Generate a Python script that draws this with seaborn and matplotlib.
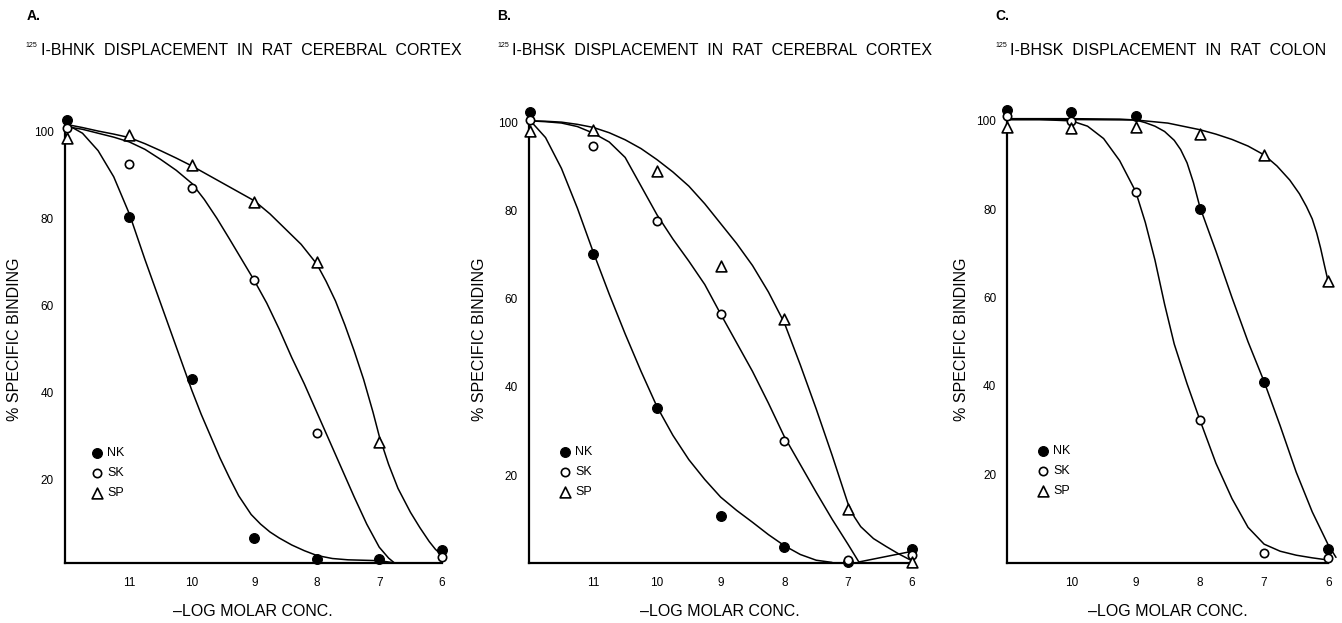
import numpy as np
import matplotlib
matplotlib.use("Agg")
import matplotlib.pyplot as plt
import seaborn as sns

# -log molar concentration of the displacing peptide
CONC_AB = [12, 11, 10, 9, 8, 7, 6]
CONC_C = [11, 10, 9, 8, 7, 6]

# % specific binding, panel A (125I-BHNK, cerebral cortex)
A_NK = [102.5, 80.2, 43.2, 6.7, 1.9, 1.9, 3.8]
A_SK = [100.8, 92.5, 86.9, 65.8, 30.8, np.nan, 2.3]
A_SP = [98.5, 99.0, 92.2, 83.7, 70.0, 28.6, np.nan]

# panel B (125I-BHSK, cerebral cortex)
B_NK = [102.4, 70.0, 35.2, 10.7, 3.8, 0.2, 3.2]
B_SK = [100.4, 94.5, 77.7, 56.5, 27.7, 0.8, 1.9]
B_SP = [97.9, 98.3, 88.9, 67.5, 55.3, 12.4, 0.4]

# panel C (125I-BHSK, colon)
C_NK = [102.5, 102.1, 101.2, 80.1, 40.8, 3.0]
C_SK = [101.0, 100.0, 83.8, 32.3, 2.1, 1.0]
C_SP = [98.7, 98.3, 98.7, 97.1, 92.2, 63.8]

# hand drawn fitted curves (x = -log M, y = %)
A_NK_FIT_X = [12.0, 11.75, 11.5, 11.25, 11.0, 10.75, 10.5, 10.25, 10.0, 9.85, 9.7, 9.55, 9.4, 9.25, 9.05,
              8.9, 8.75, 8.6, 8.4, 8.2, 8.0, 7.75, 7.5, 7.0, 6.75]
A_NK_FIT_Y = [101.5, 99.5, 95.5, 89.5, 81.0, 70.5, 60.5, 50.5, 40.5, 35.0, 30.0, 25.0, 20.5, 16.3, 12.0,
              9.8, 8.0, 6.6, 5.0, 3.7, 2.6, 1.9, 1.6, 1.4, 0.9]
A_SK_FIT_X = [12.0, 11.75, 11.5, 11.25, 11.0, 10.75, 10.5, 10.25, 10.0, 9.8, 9.6, 9.4, 9.2, 9.0, 8.8,
              8.6, 8.4, 8.2, 8.0, 7.8, 7.6, 7.4, 7.2, 7.0, 6.85, 6.75]
A_SK_FIT_Y = [101.0, 100.4, 99.5, 98.6, 97.5, 95.8, 93.5, 91.0, 88.0, 84.3, 80.0, 75.3, 70.5, 65.7, 60.5,
              54.5, 48.0, 42.0, 35.5, 29.0, 22.5, 16.0, 9.8, 4.5, 2.0, 0.8]
A_SP_FIT_X = [12.0, 11.75, 11.5, 11.25, 11.0, 10.75, 10.5, 10.25, 10.0, 9.75, 9.5, 9.25, 9.0, 8.75, 8.5,
              8.25, 8.0, 7.85, 7.7, 7.55, 7.4, 7.25, 7.1, 7.0, 6.85, 6.7, 6.5, 6.35, 6.2, 6.1, 6.0]
A_SP_FIT_Y = [101.5, 100.8, 100.0, 99.3, 98.5, 97.1, 95.5, 93.8, 92.0, 90.0, 88.0, 86.0, 84.0, 81.0, 77.5,
              74.0, 69.5, 65.5, 61.0, 55.5, 49.5, 43.0, 35.5, 30.0, 23.5, 18.0, 12.5, 9.0, 5.8, 4.0, 2.7]

B_NK_FIT_X = [12.0, 11.75, 11.5, 11.25, 11.0, 10.75, 10.5, 10.25, 10.0, 9.75, 9.5, 9.25, 9.0, 8.75, 8.5,
              8.25, 8.0, 7.75, 7.5, 7.25]
B_NK_FIT_Y = [100.5, 96.5, 89.5, 80.5, 70.5, 61.0, 52.0, 43.5, 35.5, 29.0, 23.5, 19.0, 15.0, 12.0, 9.3,
              6.5, 4.0, 2.0, 0.7, 0.2]
B_SK_FIT_X = [12.0, 11.75, 11.5, 11.25, 11.0, 10.75, 10.5, 10.25, 10.0, 9.75, 9.5, 9.25, 9.0, 8.75, 8.5,
              8.25, 8.0, 7.75, 7.5, 7.25, 7.0, 6.83, 6.0]
B_SK_FIT_Y = [100.3, 100.1, 99.8, 99.0, 97.5, 95.5, 92.0, 85.5, 79.0, 73.5, 68.5, 63.2, 56.5, 50.0, 43.5,
              36.3, 28.7, 22.4, 16.1, 10.0, 4.3, 0.3, 2.7]
B_SP_FIT_X = [12.0, 11.75, 11.5, 11.25, 11.0, 10.75, 10.5, 10.25, 10.0, 9.75, 9.5, 9.25, 9.0, 8.75, 8.5,
              8.25, 8.0, 7.75, 7.5, 7.25, 7.0, 6.9, 6.8, 6.6, 6.4, 6.2, 6.0]
B_SP_FIT_Y = [100.3, 100.2, 100.0, 99.5, 98.8, 97.6, 96.0, 94.0, 91.5, 88.7, 85.5, 81.5, 77.0, 72.5, 67.5,
              61.5, 54.5, 45.0, 35.0, 24.5, 13.5, 10.5, 8.3, 5.6, 3.8, 2.1, 0.6]

C_NK_FIT_X = [11.0, 10.0, 9.25, 9.0, 8.85, 8.7, 8.55, 8.4, 8.3, 8.2, 8.1, 8.0, 7.75, 7.5, 7.25, 7.0,
              6.75, 6.5, 6.25, 6.1, 6.0, 5.88]
C_NK_FIT_Y = [100.5, 100.5, 100.4, 100.2, 99.6, 98.8, 97.6, 95.6, 93.5, 90.5, 86.0, 80.5, 70.5, 60.0,
              50.0, 41.0, 31.0, 20.5, 11.5, 7.0, 4.0, 1.2]
C_SK_FIT_X = [11.0, 10.5, 10.0, 9.75, 9.5, 9.25, 9.0, 8.85, 8.7, 8.55, 8.4, 8.2, 8.0, 7.75, 7.5, 7.25,
              7.0, 6.75, 6.5, 6.25, 6.0]
C_SK_FIT_Y = [100.3, 100.3, 100.0, 98.8, 96.0, 91.0, 84.0, 77.0, 68.5, 58.5, 49.5, 40.5, 32.3, 22.5,
              14.5, 8.0, 4.2, 2.6, 1.7, 1.1, 0.6]
C_SP_FIT_X = [11.0, 10.0, 9.0, 8.5, 8.0, 7.75, 7.5, 7.25, 7.0, 6.8, 6.6, 6.45, 6.34, 6.25, 6.18, 6.12,
              6.06, 6.0]
C_SP_FIT_Y = [100.3, 100.3, 100.2, 99.5, 98.0, 97.0, 95.8, 94.3, 92.3, 89.8, 86.6, 83.5, 80.6, 77.8,
              74.6, 71.2, 67.3, 63.5]

PEPTIDES = ["NK", "SK", "SP"]
TITLES = ["I-BHNK  DISPLACEMENT  IN  RAT  CEREBRAL  CORTEX",
          "I-BHSK  DISPLACEMENT  IN  RAT  CEREBRAL  CORTEX",
          "I-BHSK  DISPLACEMENT  IN  RAT  COLON"]
LETTERS = ["A.", "B.", "C."]
Y_TICKS = [20, 40, 60, 80, 100]

W, H = 1342, 623

sns.set_theme(style="white")
plt.rcParams["font.family"] = ["Liberation Sans", "DejaVu Sans"]
plt.rcParams.update({"text.color": "black", "axes.labelcolor": "black",
                     "xtick.color": "black", "ytick.color": "black",
                     "axes.edgecolor": "black"})

MARKER_STYLE = {
    "NK": dict(marker="o", s=50, color="black", edgecolor="black", linewidth=0.8),
    "SK": dict(marker="o", s=36, color="white", edgecolor="black", linewidth=1.2),
    "SP": dict(marker="^", s=60, color="white", edgecolor="black", linewidth=1.2),
}

panels = [
    dict(conc=CONC_AB, pts=[A_NK, A_SK, A_SP],
         fits=[(A_NK_FIT_X, A_NK_FIT_Y), (A_SK_FIT_X, A_SK_FIT_Y), (A_SP_FIT_X, A_SP_FIT_Y)],
         rect=[65, 128, 441.7, 563.3], xlim=(12.03, 6.0), ylim=(0.8, 100.7),
         xticks=[11, 10, 9, 8, 7, 6], leg=(97, 473), letter_x=27, sup_x=25, title_x=41,
         ylab_x=15),
    dict(conc=CONC_AB, pts=[B_NK, B_SK, B_SP],
         fits=[(B_NK_FIT_X, B_NK_FIT_Y), (B_SK_FIT_X, B_SK_FIT_Y), (B_SP_FIT_X, B_SP_FIT_Y)],
         rect=[529, 121.7, 911.7, 563.3], xlim=(12.01, 6.0), ylim=(0.0, 100.1),
         xticks=[11, 10, 9, 8, 7, 6], leg=(565, 472), letter_x=497, sup_x=497, title_x=512,
         ylab_x=480),
    dict(conc=CONC_C, pts=[C_NK, C_SK, C_SP],
         fits=[(C_NK_FIT_X, C_NK_FIT_Y), (C_SK_FIT_X, C_SK_FIT_Y), (C_SP_FIT_X, C_SP_FIT_Y)],
         rect=[1007.3, 120, 1328.3, 562.7], xlim=(11.0, 6.0), ylim=(0.0, 100.2),
         xticks=[10, 9, 8, 7, 6], leg=(1043, 471), letter_x=995, sup_x=995, title_x=1010,
         ylab_x=962),
]

fig = plt.figure(figsize=(W / 100, H / 100), dpi=100)

for i, p in enumerate(panels):
    x0, y0, x1, y1 = p["rect"]
    ax = fig.add_axes([x0 / W, 1 - y1 / H, (x1 - x0) / W, (y1 - y0) / H])

    for fx, fy in p["fits"]:
        sns.lineplot(x=fx, y=fy, ax=ax, sort=False, estimator=None, color="black",
                     linewidth=1.1, clip_on=False)
    for name, vals in zip(PEPTIDES, p["pts"]):
        sns.scatterplot(x=p["conc"], y=vals, ax=ax, label=name, clip_on=False,
                        zorder=5, **MARKER_STYLE[name])

    ax.set_xlim(*p["xlim"])
    ax.set_ylim(*p["ylim"])
    ax.set_xticks(p["xticks"])
    ax.set_xticklabels([str(t) for t in p["xticks"]])
    ax.set_yticks(Y_TICKS)
    ax.set_yticklabels([str(t) for t in Y_TICKS])
    ax.set_xlabel("")
    ax.set_ylabel("")
    sns.despine(ax=ax)
    for side in ["left", "bottom"]:
        ax.spines[side].set_linewidth(1.6)
        ax.spines[side].set_color("black")
    ax.tick_params(axis="both", which="major", direction="out", color="black",
                   width=1.4, labelsize=8.5, labelcolor="black")
    ax.tick_params(axis="x", length=7, pad=3)
    ax.tick_params(axis="y", length=6, pad=2)
    ax.grid(False)

    # legend in the lower left corner, markers stacked
    lx, ly = p["leg"]
    ax_w = x1 - x0
    ax_h = y1 - y0
    ax.legend(loc="center left",
              bbox_to_anchor=((lx - 6.25 - x0) / ax_w, (y1 - ly) / ax_h),
              frameon=False, fontsize=9, handlelength=1.0, handletextpad=0.3,
              borderpad=0, borderaxespad=0, labelspacing=0.65, scatterpoints=1)

    # panel letter and title
    fig.text(p["letter_x"] / W, 1 - 20 / H, LETTERS[i], fontsize=10, fontweight="bold",
             ha="left", va="baseline")
    fig.text(p["sup_x"] / W, 1 - 47 / H, "125", fontsize=5, ha="left", va="baseline")
    fig.text(p["title_x"] / W, 1 - 55 / H, TITLES[i], fontsize=11.5, ha="left", va="baseline")

    # axis labels
    fig.text(p["ylab_x"] / W, 1 - 339 / H, "% SPECIFIC BINDING", fontsize=11.5,
             rotation=90, ha="center", va="center")
    fig.text((x0 + x1) / 2 / W, 1 - 611 / H, "\u2013LOG MOLAR CONC.", fontsize=11.5,
             ha="center", va="center")

fig.savefig("out.png", dpi=100, facecolor="white")
